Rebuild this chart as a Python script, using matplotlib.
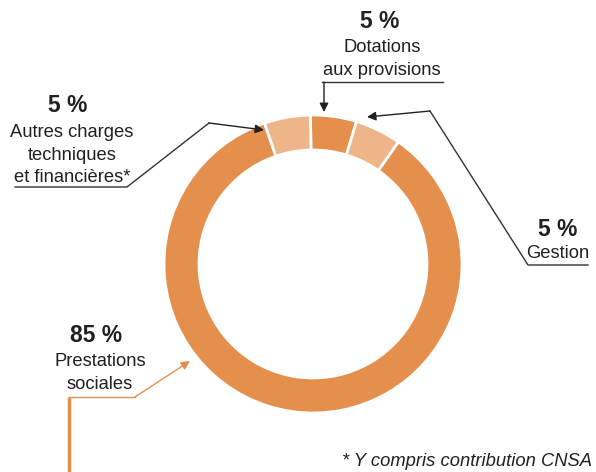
import matplotlib.pyplot as plt

plt.rcParams['font.family'] = ['Liberation Sans', 'DejaVu Sans']

W, H = 596, 472

# data: clockwise from the top of the ring
names = ["Dotations\naux provisions", "Gestion", "Prestations\nsociales",
         "Autres charges\ntechniques\net financières*"]
shares = [5, 5, 85, 5]
pct_labels = ["5 %", "5 %", "85 %", "5 %"]
seg_colors = ["#e4904c", "#efb58a", "#e4904c", "#efb58a"]
footnote = "* Y compris contribution CNSA"

# layout (pixel coords, y down)
pct_pos = [(380, 22), (558, 229), (96, 336), (68, 106)]
name_pos = [(382, 59), (558, 253), (100, 373), (72, 155)]
ink = "#231f20"
orange = "#e4904c"

fig = plt.figure(figsize=(W / 100, H / 100), dpi=100)
ax = fig.add_axes([0, 0, 1, 1])

ax.pie(shares, colors=seg_colors, center=(313, 264), radius=149,
       startangle=-91, counterclock=True,
       wedgeprops=dict(width=35, edgecolor="white", linewidth=2))

ax.set_xlim(0, W)
ax.set_ylim(H, 0)
ax.set_aspect("equal")
ax.axis("off")

for (px, py), p in zip(pct_pos, pct_labels):
    ax.text(px, py, p, ha="center", va="center", fontsize=16.5,
            fontweight="bold", color=ink)
for (nx, ny), n in zip(name_pos, names):
    ax.text(nx, ny, n, ha="center", va="center", fontsize=13.2,
            color=ink, linespacing=1.45)


def arrow(a, b, c=ink):
    ax.annotate("", xy=b, xytext=a,
                arrowprops=dict(arrowstyle="-|>", color=c, lw=1,
                                mutation_scale=13, shrinkA=0, shrinkB=0))


# Dotations
ax.plot([322, 443], [82, 82], color="#333333", lw=1)
arrow((324, 82), (324, 112))
# Gestion
ax.plot([588, 528, 430], [265, 265, 111], color="#333333", lw=1)
arrow((430, 111), (367, 117))
# Autres charges
ax.plot([15, 127, 209], [187, 187, 123], color="#333333", lw=1)
arrow((209, 123), (264, 130))
# Prestations
ax.plot([69, 69], [H, 397], color=orange, lw=2.5, solid_capstyle="butt")
ax.plot([69, 135], [397, 397], color=orange, lw=1)
arrow((135, 397), (190, 361), c=orange)

ax.text(592, 461, footnote, ha="right", va="center", fontsize=13.2,
        fontstyle="italic", color=ink)

fig.savefig("out.png", dpi=100)
